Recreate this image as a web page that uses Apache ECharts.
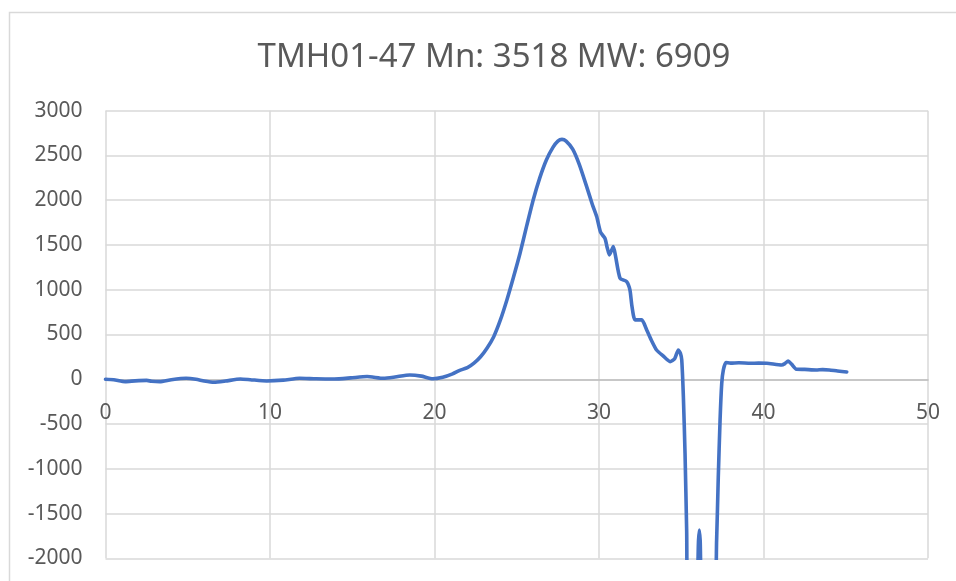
<!DOCTYPE html>
<html>
<head>
<meta charset="utf-8">
<script src="https://cdn.jsdelivr.net/npm/echarts@6/dist/echarts.min.js"></script>
<style>html,body{margin:0;padding:0;background:#fff}#c{width:956px;height:581px}</style>
</head>
<body>
<div id="c"></div>
<script>
const titleText = "TMH01-47 Mn: 3518 MW: 6909";
const xTicks = [0, 10, 20, 30, 40, 50];
const yTicks = [-2000, -1500, -1000, -500, 0, 500, 1000, 1500, 2000, 2500, 3000];
const timeValues = [0, 0.5, 1.2, 1.8, 2.5, 2.8, 3.3, 4.0, 4.9, 5.5, 6.0, 6.6, 7.3, 8.2, 8.8, 9.8, 10.8, 11.8, 12.8, 13.9, 14.9, 15.9, 16.9, 17.6, 18.5, 19.2, 19.9, 20.5, 21.1, 21.5, 22.0, 22.4, 22.8, 23.2, 23.6, 24.0, 24.4, 24.8, 25.2, 25.6, 26.0, 26.4, 26.8, 27.2, 27.5, 27.75, 28.0, 28.4, 28.8, 29.25, 29.6, 29.86, 30.1, 30.36, 30.5, 30.63, 30.87, 31.0, 31.28, 31.68, 31.88, 32.0, 32.19, 32.6, 32.9, 33.2, 33.5, 33.9, 34.32, 34.6, 34.82, 34.95, 35.03, 35.13, 35.23, 35.33, 35.4, 35.9, 36.05, 36.1, 36.15, 36.3, 37.0, 37.15, 37.25, 37.36, 37.46, 37.56, 37.72, 38.0, 38.5, 39.2, 39.7, 40.2, 41.1, 41.3, 41.5, 41.7, 42.0, 42.5, 43.2, 43.6, 44.0, 44.5, 45.06];
const signalValues = [0, -5, -26, -18, -13, -22, -26, -5, 11, 0, -20, -34, -20, 3, -5, -19, -10, 11, 5, 3, 15, 30, 11, 25, 48, 35, 5, 22, 60, 97, 130, 180, 252, 350, 476, 660, 886, 1140, 1408, 1710, 2003, 2250, 2450, 2590, 2660, 2680, 2660, 2570, 2400, 2152, 1950, 1817, 1640, 1575, 1470, 1389, 1482, 1380, 1128, 1091, 998, 820, 663, 663, 551, 430, 327, 260, 197, 230, 327, 290, 216, -200, -827, -1700, -2400, -2400, -1800, -1684, -1800, -2400, -2400, -1800, -1100, -455, -50, 104, 186, 180, 185, 179, 180, 179, 160, 175, 204, 170, 112, 110, 104, 108, 104, 92, 82];

const chart = echarts.init(document.getElementById('c'));
const data = timeValues.map((x, i) => [x, signalValues[i]]);
const txt = '#595959';
chart.setOption({
  animation: false,
  backgroundColor: '#fff',
  title: {
    text: titleText,
    left: 489,
    top: 36,
    textAlign: 'center',
    textStyle: { fontFamily: 'Noto Sans', fontSize: 33, fontWeight: 'normal', color: txt }
  },
  graphic: [{
    type: 'rect', silent: true, z: -1,
    shape: { x: 9.5, y: 12.5, width: 1000, height: 700 },
    style: { fill: 'none', stroke: '#d9d9d9', lineWidth: 1.5 }
  }],
  grid: { left: 105.5, right: 28, top: 110.7, bottom: 22.7, containLabel: false, outerBoundsMode: 'none' },
  xAxis: {
    type: 'value', min: xTicks[0], max: xTicks[xTicks.length - 1], interval: 10,
    axisLine: { onZero: true, lineStyle: { color: '#bfbfbf', width: 1.5 } },
    axisTick: { show: false },
    axisLabel: { margin: -156, fontFamily: 'Noto Sans', fontSize: 21, color: txt },
    splitLine: { show: true, lineStyle: { color: '#d9d9d9', width: 1.5 } }
  },
  yAxis: {
    type: 'value', min: yTicks[0], max: yTicks[yTicks.length - 1], interval: 500,
    axisLine: { show: false },
    axisTick: { show: false },
    axisLabel: { margin: 23, fontFamily: 'Noto Sans', fontSize: 21, color: txt, formatter: v => String(v) },
    splitLine: { show: true, lineStyle: { color: '#d9d9d9', width: 1.5 } }
  },
  series: [{
    type: 'line', data: data, showSymbol: false, smooth: 0.2, clip: true,
    lineStyle: { color: '#4472C4', width: 3.6, join: 'round', cap: 'round' }
  }]
});
</script>
</body>
</html>
